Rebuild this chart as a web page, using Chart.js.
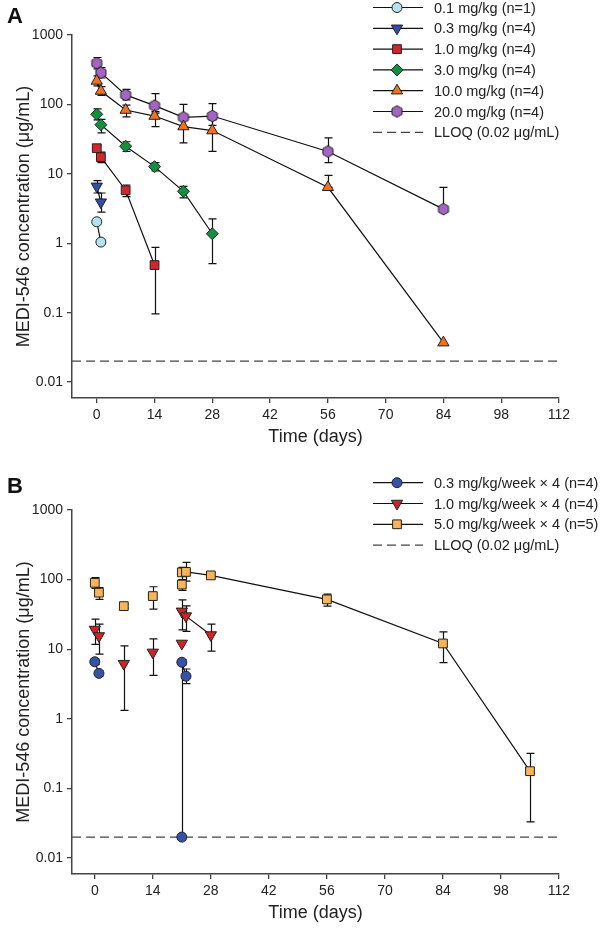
<!DOCTYPE html>
<html>
<head>
<meta charset="utf-8">
<script src="https://cdn.jsdelivr.net/npm/chart.js@4.4.1/dist/chart.umd.min.js"></script>
<style>
  body { margin: 0; background: #fff; }
  canvas { display: block; }
</style>
</head>
<body>
<canvas id="chartA" width="600" height="466"></canvas>
<canvas id="chartB" width="600" height="466"></canvas>
<script>
// Axis ticks
const yTicks = [0.01, 0.1, 1, 10, 100, 1000];
const xTicks = [0, 14, 28, 42, 56, 70, 84, 98, 112];
const lloq = 0.02;

// Panel A - single dose
const a01Day = [0, 1];
const a01Conc = [2.04, 1.04];
const a01Lo = [null, null];
const a01Hi = [null, null];

const a03Day = [0, 1];
const a03Conc = [6.6, 3.9];
const a03Lo = [5.3, 2.8];
const a03Hi = [8.0, 5.3];

const a1Day = [0, 1, 7, 14];
const a1Conc = [23.4, 17.4, 5.8, 0.485];
const a1Lo = [21, 14.5, 4.7, 0.096];
const a1Hi = [26, 20.5, 6.9, 0.87];

const a3Day = [0, 1, 7, 14, 21, 28];
const a3Conc = [72, 51, 25, 12.7, 5.6, 1.37];
const a3Lo = [60, 39, 21, 11, 4.5, 0.51];
const a3Hi = [86, 61, 29, 14.5, 6.6, 2.25];

const a10Day = [0, 1, 7, 14, 21, 28, 56, 84];
const a10Conc = [218, 156, 83, 68, 48, 42, 6.4, 0.037];
const a10Lo = [185, 135, 66, 48, 28, 21, 6.4, null];
const a10Hi = [257, 180, 98, 79, 71, 60, 9.5, null];

const a20Day = [0, 1, 7, 14, 21, 28, 56, 84];
const a20Conc = [392, 287, 137, 96, 65, 68, 21, 3.1];
const a20Lo = [325, 240, 116, 75, 48, 50, 14.5, 3.1];
const a20Hi = [474, 340, 165, 143, 100, 103, 33, 6.4];

// Panel B - weekly x 4 (link = joined to next point)
const b03Day = [0, 1, 21, 21, 22];
const b03Conc = [6.6, 4.5, 0.02, 6.5, 4.1];
const b03Lo = [6.0, 4.1, 0.02, 5.9, 3.2];
const b03Hi = [7.2, 4.9, 6.3, 7.1, 5.2];
const b03Link = [1, 0, 0, 1, 0];

const b1Day = [0, 1, 7, 14, 21, 21, 22, 28];
const b1Conc = [19.2, 15.5, 6.2, 9.0, 12.1, 35, 29.9, 16];
const b1Lo = [11.7, 8.5, 1.32, 4.2, null, 19, 18, 9.4];
const b1Hi = [27, 22.9, 11.2, 14.1, null, 51, 42, 22.9];
const b1Link = [1, 0, 0, 0, 0, 1, 1, 0];

const b5Day = [0, 1, 7, 14, 21, 21, 22, 28, 56, 84, 105];
const b5Conc = [90, 65, 41.6, 58, 85, 127, 129, 115, 52, 12.1, 0.177];
const b5Lo = [75, 52, 39, 37.7, 70, 100, 95, 105, 41.5, 6.4, 0.033];
const b5Hi = [107, 77, 44, 79, 100, 150, 177, 124, 62, 17.7, 0.32];
const b5Link = [1, 0, 0, 0, 0, 1, 1, 1, 1, 1, 0];

Chart.defaults.font.family = "'Liberation Sans', Arial, sans-serif";
Chart.defaults.color = '#222';

function hexagon(fill) {
    const c = document.createElement('canvas');
    c.width = c.height = 14;
    const g = c.getContext('2d');
    g.beginPath();
    for (let k = 0; k < 6; k++) {
        const a = -Math.PI / 2 + k * Math.PI / 3;
        const px = 7 + 5.8 * Math.cos(a), py = 7 + 5.8 * Math.sin(a);
        k ? g.lineTo(px, py) : g.moveTo(px, py);
    }
    g.closePath();
    g.fillStyle = fill;
    g.fill();
    g.strokeStyle = '#222';
    g.lineWidth = 1;
    g.stroke();
    return c;
}

function series(label, days, conc, lo, hi, link, style) {
    return Object.assign({
        label, lo, hi, link,
        data: days.map((d, i) => ({ x: d, y: conc[i] })),
        borderColor: '#111',
        borderWidth: 1.2,
        pointBorderColor: '#222',
        pointBorderWidth: 1,
        segment: {
            borderColor: c => (link && !link[c.p0DataIndex]) ? 'rgba(0,0,0,0)' : '#111'
        }
    }, style);
}

function lloqLine(xmin) {
    return {
        label: 'LLOQ (0.02 μg/mL)',
        dash: true,
        data: [{ x: xmin, y: lloq }, { x: 112, y: lloq }],
        borderColor: '#444',
        borderWidth: 1.3,
        borderDash: [9, 5],
        pointRadius: 0
    };
}

// error bars drawn under the lines and markers
const errorBars = {
    id: 'errorBars',
    beforeDatasetsDraw(chart) {
        const { ctx, scales: { x, y } } = chart;
        ctx.save();
        ctx.strokeStyle = '#111';
        ctx.lineWidth = 1.2;
        chart.data.datasets.forEach(ds => {
            if (!ds.lo) return;
            ds.data.forEach((p, i) => {
                const lo = ds.lo[i], hi = ds.hi[i];
                if (lo == null || hi == null) return;
                const px = Math.round(x.getPixelForValue(p.x)) + 0.5;
                const yl = y.getPixelForValue(lo), yh = y.getPixelForValue(hi);
                ctx.beginPath();
                ctx.moveTo(px, yl); ctx.lineTo(px, yh);
                ctx.moveTo(px - 4, yl); ctx.lineTo(px + 4, yl);
                ctx.moveTo(px - 4, yh); ctx.lineTo(px + 4, yh);
                ctx.stroke();
            });
        });
        ctx.restore();
    }
};

// legend with line + marker, and the panel letter
const sideLegend = {
    id: 'sideLegend',
    afterDraw(chart, args, opts) {
        const ctx = chart.ctx;
        ctx.save();
        ctx.font = "bold 22px 'Liberation Sans', Arial, sans-serif";
        ctx.fillStyle = '#111';
        ctx.textBaseline = 'alphabetic';
        ctx.fillText(opts.letter, 7, opts.letterY);

        ctx.font = "14.5px 'Liberation Sans', Arial, sans-serif";
        ctx.textBaseline = 'middle';
        chart.data.datasets.forEach((ds, i) => {
            const y = opts.top + i * 20.8;
            ctx.beginPath();
            ctx.strokeStyle = ds.dash ? '#444' : '#111';
            ctx.lineWidth = ds.dash ? 1.3 : 1.2;
            ctx.setLineDash(ds.dash ? [9, 5] : []);
            ctx.moveTo(373, y);
            ctx.lineTo(423, y);
            ctx.stroke();
            ctx.setLineDash([]);
            if (!ds.dash) {
                ctx.fillStyle = ds.pointBackgroundColor;
                ctx.strokeStyle = '#222';
                ctx.lineWidth = 1;
                Chart.helpers.drawPoint(ctx, {
                    pointStyle: ds.pointStyle,
                    radius: ds.pointRadius,
                    rotation: ds.pointRotation || 0,
                    borderWidth: 1
                }, 397, y);
            }
            ctx.fillStyle = '#222';
            ctx.fillText(ds.label, 434, y + 1);
        });
        ctx.restore();
    }
};

function makePanel(id, datasets, xmin, padTop, padBottom, letter, letterY, legendTop) {
    return new Chart(document.getElementById(id), {
        type: 'line',
        data: { datasets },
        plugins: [errorBars, sideLegend],
        options: {
            responsive: false,
            animation: false,
            layout: { padding: { top: padTop, right: 41, bottom: padBottom, left: 0 } },
            plugins: {
                legend: { display: false },
                tooltip: { enabled: false },
                sideLegend: { letter, letterY, top: legendTop }
            },
            scales: {
                x: {
                    type: 'linear',
                    min: xmin,
                    max: 112,
                    afterBuildTicks: s => { s.ticks = xTicks.map(v => ({ value: v })); },
                    afterFit: s => { s.height = 50; },
                    ticks: { autoSkip: false, maxRotation: 0, padding: 4, font: { size: 14 } },
                    grid: { drawOnChartArea: false, drawTicks: true, tickLength: 5, color: '#444', lineWidth: 1.3 },
                    border: { display: true, color: '#444', width: 1.5 },
                    title: { display: true, text: 'Time (days)', font: { size: 18 }, padding: { top: 0, bottom: 0 } }
                },
                y: {
                    type: 'logarithmic',
                    min: 0.0059,
                    max: 1000,
                    afterBuildTicks: s => { s.ticks = yTicks.map(v => ({ value: v })); },
                    afterFit: s => { s.width = 72; },
                    ticks: { autoSkip: false, padding: 4, font: { size: 14 }, callback: v => String(v) },
                    grid: { drawOnChartArea: false, drawTicks: true, tickLength: 5, color: '#444', lineWidth: 1.3 },
                    border: { display: true, color: '#444', width: 1.5 },
                    title: { display: true, text: 'MEDI-546 concentration (μg/mL)', font: { size: 18 }, padding: { top: 13, bottom: 0 } }
                }
            }
        }
    });
}

const hexPurple = hexagon('#a464c4');

makePanel('chartA', [
    series('0.1 mg/kg (n=1)', a01Day, a01Conc, a01Lo, a01Hi, null,
        { pointStyle: 'circle', pointRadius: 5, pointBackgroundColor: '#b3e3ea' }),
    series('0.3 mg/kg (n=4)', a03Day, a03Conc, a03Lo, a03Hi, null,
        { pointStyle: 'triangle', pointRotation: 180, pointRadius: 6.5, pointBackgroundColor: '#2f4fa8' }),
    series('1.0 mg/kg (n=4)', a1Day, a1Conc, a1Lo, a1Hi, null,
        { pointStyle: 'rect', pointRadius: 6.2, pointBackgroundColor: '#d0262c' }),
    series('3.0 mg/kg (n=4)', a3Day, a3Conc, a3Lo, a3Hi, null,
        { pointStyle: 'rectRot', pointRadius: 6, pointBackgroundColor: '#12903f' }),
    series('10.0 mg/kg (n=4)', a10Day, a10Conc, a10Lo, a10Hi, null,
        { pointStyle: 'triangle', pointRadius: 6.5, pointBackgroundColor: '#f2711f' }),
    series('20.0 mg/kg (n=4)', a20Day, a20Conc, a20Lo, a20Hi, null,
        { pointStyle: hexPurple, pointRadius: 6, pointBackgroundColor: '#a464c4' }),
    lloqLine(-6)
], -6, 35, 18, 'A', 23, 7.5);

makePanel('chartB', [
    series('0.3 mg/kg/week × 4 (n=4)', b03Day, b03Conc, b03Lo, b03Hi, b03Link,
        { pointStyle: 'circle', pointRadius: 5, pointBackgroundColor: '#3453a8' }),
    series('1.0 mg/kg/week × 4 (n=4)', b1Day, b1Conc, b1Lo, b1Hi, b1Link,
        { pointStyle: 'triangle', pointRotation: 180, pointRadius: 6.5, pointBackgroundColor: '#cf2328' }),
    series('5.0 mg/kg/week × 4 (n=5)', b5Day, b5Conc, b5Lo, b5Hi, b5Link,
        { pointStyle: 'rect', pointRadius: 6.2, pointBackgroundColor: '#f8b457' }),
    lloqLine(-5.5)
], -5.5, 44, 8, 'B', 27, 16.7);
</script>
</body>
</html>
